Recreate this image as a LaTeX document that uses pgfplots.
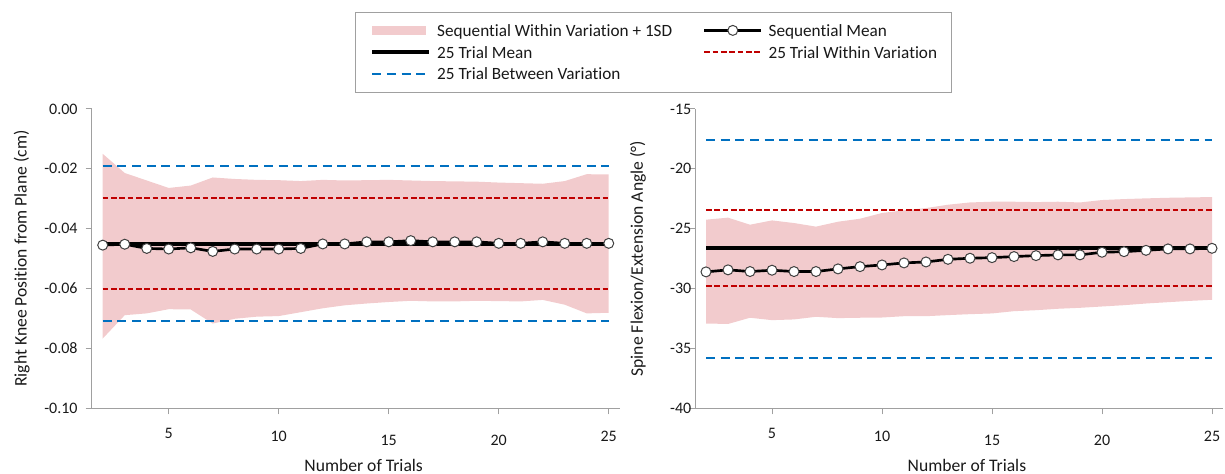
\documentclass[border=0pt]{standalone}
\usepackage{fontspec}
\setmainfont{Carlito}[Ligatures=NoCommon]
\usepackage{pgfplots}
\pgfplotsset{compat=1.18}
\usepackage{pgfplotstable}

\definecolor{bandpink}{RGB}{242,203,205}
\definecolor{withinred}{RGB}{192,0,0}
\definecolor{betweenblue}{RGB}{0,112,192}
\definecolor{axisgray}{RGB}{160,160,160}
\definecolor{markgray}{RGB}{64,64,64}

% trial, sequential mean
\pgfplotstableread{
n mean
2 -0.0455
3 -0.0452
4 -0.0466
5 -0.0468
6 -0.0464
7 -0.0476
8 -0.0468
9 -0.0468
10 -0.0468
11 -0.0466
12 -0.0451
13 -0.0451
14 -0.0444
15 -0.0444
16 -0.0440
17 -0.0444
18 -0.0444
19 -0.0444
20 -0.0449
21 -0.0449
22 -0.0444
23 -0.0449
24 -0.0449
25 -0.0449
}\kneemean

% outline of the +/- 1SD band: upper edge left to right, lower edge back
\pgfplotstableread{
n y
2 -0.0150
3 -0.0214
4 -0.0239
5 -0.0264
6 -0.0256
7 -0.0229
8 -0.0234
9 -0.0237
10 -0.0238
11 -0.0241
12 -0.0237
13 -0.0239
14 -0.0238
15 -0.0237
16 -0.0239
17 -0.0241
18 -0.0242
19 -0.0243
20 -0.0246
21 -0.0248
22 -0.0250
23 -0.0241
24 -0.0218
25 -0.0219
25 -0.0681
24 -0.0683
23 -0.0654
22 -0.0638
21 -0.0643
20 -0.0642
19 -0.0641
18 -0.0643
17 -0.0643
16 -0.0641
15 -0.0645
14 -0.0650
13 -0.0656
12 -0.0666
11 -0.0679
10 -0.0692
9 -0.0694
8 -0.0701
7 -0.0717
6 -0.0670
5 -0.0669
4 -0.0683
3 -0.0689
2 -0.0767
}\kneeband

\pgfplotstableread{
n mean
2 -28.61
3 -28.44
4 -28.58
5 -28.47
6 -28.58
7 -28.58
8 -28.36
9 -28.17
10 -28.03
11 -27.86
12 -27.78
13 -27.56
14 -27.47
15 -27.42
16 -27.33
17 -27.25
18 -27.19
19 -27.19
20 -26.97
21 -26.92
22 -26.81
23 -26.69
24 -26.69
25 -26.64
}\spinemean

\pgfplotstableread{
n y
2 -24.25
3 -24.08
4 -24.67
5 -24.31
6 -24.53
7 -24.83
8 -24.42
9 -24.17
10 -23.69
11 -23.47
12 -23.28
13 -23.00
14 -22.81
15 -22.75
16 -22.75
17 -22.78
18 -22.75
19 -22.81
20 -22.61
21 -22.53
22 -22.47
23 -22.42
24 -22.39
25 -22.36
25 -30.94
24 -31.03
23 -31.14
22 -31.25
21 -31.39
20 -31.50
19 -31.61
18 -31.69
17 -31.81
16 -31.89
15 -32.08
14 -32.14
13 -32.22
12 -32.31
11 -32.31
10 -32.42
9 -32.44
8 -32.47
7 -32.36
6 -32.58
5 -32.64
4 -32.44
3 -32.96
2 -32.92
}\spineband

\pgfplotsset{
  linelegend/.style={legend image code/.code={%
    \draw[mark repeat=2,mark phase=2,##1] plot coordinates {(0pt,0pt) (21.375pt,0pt) (42.75pt,0pt)};}},
  arealegend/.style={legend image code/.code={%
    \fill[##1] (0pt,-3.4pt) rectangle (40.5pt,3.4pt);}},
  band/.style={fill=bandpink, draw=none},
  between/.style={betweenblue, line width=1.5pt, dash pattern=on 6.75pt off 4.25pt},
  within/.style={withinred, line width=1.5pt, dash pattern=on 4.25pt off 2pt},
  trialmean/.style={black, line width=3pt},
  seqmean/.style={black, line width=2pt, mark=*, mark size=3.75pt,
    mark options={fill=white, draw=markgray, line width=0.75pt, solid}},
  chart/.style={
    scale only axis, width=396pt, height=224.5pt,
    anchor=south west,
    xmin=1.5, xmax=25.5,
    xtick={5,10,15,20,25},
    xticklabels={5,{\raisebox{-2pt}{10}},{\raisebox{-4.8pt}{15}},{\raisebox{-4.8pt}{20}},{\raisebox{-2pt}{25}}},
    xticklabel style={anchor=base, yshift=-18.5pt},
    axis x line*=bottom, axis y line*=left,
    axis line style={axisgray, line width=0.75pt, -},
    tick style={axisgray, line width=0.75pt},
    tick align=outside, major tick length=4.5pt,
    /pgf/number format/assume math mode=true,
    tick label style={black!90, font=\fontsize{12pt}{14pt}\selectfont},
    label style={black!90, font=\fontsize{13.2pt}{15pt}\selectfont},
    xlabel={Number of Trials},
    xlabel style={at={(axis description cs:0.515,-0.1894)}, anchor=center},
  },
}

\begin{document}
\begin{tikzpicture}[font=\fontsize{13.2pt}{15pt}\selectfont]
\path[use as bounding box] (0,0) rectangle (918.75pt,-355.5pt);

% knee position
\begin{axis}[chart,
  at={(68.8pt,-306.2pt)},
  ymin=-0.1, ymax=0,
  ytick={-0.10,-0.08,-0.06,-0.04,-0.02,0},
  yticklabel style={xshift=-2.6pt, /pgf/number format/.cd, fixed, fixed zerofill, precision=2},
  ylabel={Right Knee Position from Plane (cm)},
  ylabel style={at={(axis description cs:-0.1326,0.5)}, anchor=center},
  legend columns=2,
  legend cell align=left,
  legend style={at={(axis description cs:0.4987,1.3251)}, anchor=north west,
    draw=axisgray, line width=0.75pt, fill=white,
    font=\fontsize{12.9pt}{15pt}\selectfont,
    inner xsep=11pt, inner ysep=7.7pt, row sep=4.3pt,
    nodes={inner sep=0pt, text height=10.5pt, text depth=1.5pt, text=black!90},
    /tikz/every odd column/.append style={column sep=4.5pt},
    /tikz/every even column/.append style={column sep=23pt}},
]
\addplot[band, forget plot] table[x=n, y=y] {\kneeband} -- cycle;
\addplot[between, forget plot] coordinates {(2,-0.0189) (25,-0.0189)};
\addplot[between, forget plot] coordinates {(2,-0.0709) (25,-0.0709)};
\addplot[within, forget plot] coordinates {(2,-0.0298) (25,-0.0298)};
\addplot[within, forget plot] coordinates {(2,-0.0601) (25,-0.0601)};
\addplot[seqmean, forget plot] table[x=n, y=mean] {\kneemean};
\addplot[trialmean, forget plot] coordinates {(2,-0.0450) (25,-0.0450)};

\addlegendimage{band, arealegend}
\addlegendentry{Sequential Within Variation + 1SD}
\addlegendimage{seqmean, linelegend}
\addlegendentry{Sequential Mean}
\addlegendimage{trialmean, linelegend}
\addlegendentry{25 Trial Mean}
\addlegendimage{within, linelegend}
\addlegendentry{25 Trial Within Variation}
\addlegendimage{between, linelegend}
\addlegendentry{25 Trial Between Variation}
\end{axis}

% spine angle
\begin{axis}[chart,
  at={(521.25pt,-306.2pt)},
  ymin=-40, ymax=-15,
  ytick={-40,-35,-30,-25,-20,-15},
  yticklabel style={xshift=5.25pt},
  ylabel={Spine Flexion/Extension Angle (°)},
  ylabel style={at={(axis description cs:-0.108,0.5)}, anchor=center},
]
\addplot[band, forget plot] table[x=n, y=y] {\spineband} -- cycle;
\addplot[between, forget plot] coordinates {(2,-17.56) (25,-17.56)};
\addplot[between, forget plot] coordinates {(2,-35.78) (25,-35.78)};
\addplot[within, forget plot] coordinates {(2,-23.47) (25,-23.47)};
\addplot[within, forget plot] coordinates {(2,-29.75) (25,-29.75)};
\addplot[seqmean, forget plot] table[x=n, y=mean] {\spinemean};
\addplot[trialmean, forget plot] coordinates {(2,-26.61) (25,-26.61)};
\end{axis}
\end{tikzpicture}
\end{document}
